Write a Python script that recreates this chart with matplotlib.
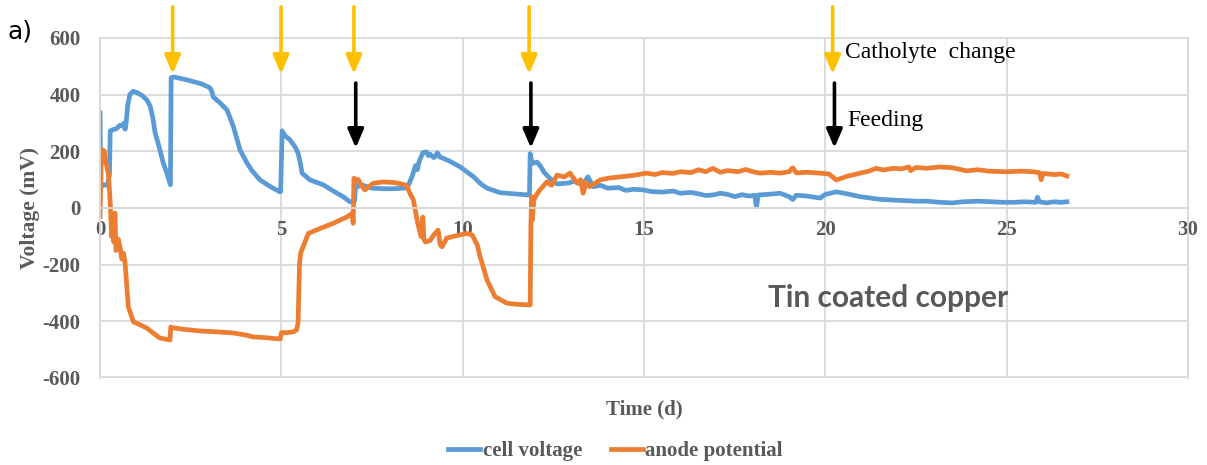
import numpy as np
import matplotlib
matplotlib.use('Agg')
from matplotlib import pyplot as plt

plt.rcParams['axes.unicode_minus'] = False

# cell voltage (mV) vs time (d)
cell_t = [0, 0.02, 0.05, 0.1, 0.2, 0.26, 0.28, 0.32, 0.45, 0.55, 0.62, 0.66, 0.69, 0.72, 0.76, 0.82, 0.91,
          1.0, 1.15, 1.29, 1.38, 1.45, 1.52, 1.6, 1.74, 1.85, 1.94, 1.96, 2.05, 2.4, 2.8, 3.03, 3.08, 3.12,
          3.3, 3.5, 3.67, 3.86, 4.05, 4.2, 4.41, 4.7, 4.96, 4.98, 5.02, 5.1, 5.24, 5.38, 5.46, 5.52, 5.57,
          5.79, 6.15, 6.43, 6.7, 6.89, 6.98, 7.02, 7.05, 7.1, 7.2, 7.3, 7.5, 7.8, 8.1, 8.4, 8.5, 8.6, 8.7,
          8.75, 8.8, 8.9, 9.0, 9.05, 9.1, 9.2, 9.25, 9.3, 9.37, 9.6, 9.93, 10.3, 10.5, 10.67, 11.03, 11.4,
          11.8, 11.84, 11.86, 11.9, 11.94, 12.05, 12.13, 12.25, 12.4, 12.6, 12.9, 13.1, 13.3, 13.45, 13.6,
          13.8, 14.0, 14.3, 14.5, 14.7, 14.97, 15.2, 15.5, 15.8, 16.0, 16.3, 16.5, 16.7, 16.9, 17.1, 17.3,
          17.5, 17.7, 17.9, 18.05, 18.1, 18.15, 18.4, 18.75, 19.0, 19.1, 19.2, 19.5, 19.85, 20.0, 20.3,
          20.6, 20.95, 21.2, 21.4, 21.6, 21.86, 22.2, 22.5, 22.8, 23.16, 23.5, 23.8, 24.2, 24.6, 24.9,
          25.2, 25.5, 25.8, 25.85, 25.9, 26.1, 26.3, 26.5, 26.66]
cell_v = [335, 80, 78, 82, 80, 120, 272, 275, 280, 292, 290, 300, 278, 300, 360, 400, 412,
          408, 398, 381, 360, 322, 264, 229, 160, 120, 82, 460, 462, 452, 438, 424, 412, 392,
          372, 346, 290, 205, 159, 130, 99, 75, 57, 58, 272, 255, 240, 215, 194, 160, 123,
          99, 82, 60, 40, 22, 22, 25, 90, 75, 82, 78, 70, 68, 68, 70, 80, 110, 150,
          135, 165, 195, 198, 185, 190, 178, 183, 195, 180, 168, 145, 110, 85, 70, 54, 50,
          46, 46, 192, 165, 158, 162, 150, 125, 105, 85, 88, 95, 80, 110, 75,
          80, 70, 72, 62, 66, 64, 58, 56, 60, 52, 55, 50, 44, 46, 52, 48,
          40, 47, 42, 45, 4, 46, 48, 52, 40, 30, 45, 42, 35, 48, 57,
          50, 40, 36, 32, 30, 28, 26, 24, 24, 20, 18, 22, 24, 22, 20,
          20, 22, 20, 38, 22, 18, 22, 20, 22]

# anode potential (mV) vs time (d)
anode_t = [0, 0.03, 0.08, 0.12, 0.16, 0.23, 0.28, 0.32, 0.35, 0.38, 0.41, 0.44, 0.5, 0.55, 0.6, 0.65,
           0.69, 0.78, 0.92, 1.1, 1.29, 1.5, 1.65, 1.93, 1.95, 1.97, 2.3, 2.76, 3.2, 3.67, 4.0, 4.23, 4.6,
           4.91, 4.97, 5.0, 5.15, 5.33, 5.42, 5.46, 5.5, 5.53, 5.6, 5.74, 6.07, 6.43, 6.8, 6.95, 6.98,
           7.0, 7.03, 7.12, 7.2, 7.3, 7.53, 7.8, 8.1, 8.3, 8.45, 8.55, 8.64, 8.74, 8.85, 8.9, 8.93, 8.97,
           9.1, 9.2, 9.32, 9.38, 9.43, 9.56, 9.75, 9.93, 10.1, 10.26, 10.4, 10.48, 10.67, 10.89, 11.22,
           11.5, 11.84, 11.86, 11.88, 11.9, 11.92, 11.96, 12.05, 12.13, 12.32, 12.45, 12.6, 12.8, 12.96,
           13.15, 13.25, 13.32, 13.4, 13.5, 13.79, 14.0, 14.34, 14.7, 15.07, 15.3, 15.5, 15.8, 16.0, 16.3,
           16.5, 16.7, 16.9, 17.1, 17.3, 17.6, 17.8, 18.0, 18.2, 18.5, 18.75, 19.0, 19.1, 19.2, 19.5,
           19.85, 20.1, 20.3, 20.6, 20.95, 21.2, 21.4, 21.6, 21.86, 22.1, 22.3, 22.35, 22.5, 22.8, 23.16,
           23.5, 23.9, 24.2, 24.5, 25.0, 25.4, 25.7, 25.9, 25.95, 26.0, 26.3, 26.5, 26.66]
anode_v = [-30, 150, 205, 200, 160, 123, 20, -101, -40, -120, -18, -150, -110, -137, -180, -160,
           -195, -349, -402, -412, -424, -445, -459, -466, -420, -422, -428, -434, -437, -441, -448, -455, -458,
           -462, -462, -440, -440, -437, -430, -406, -195, -160, -137, -90, -72, -54, -32, -19, -54,
           105, 100, 100, 80, 64, 87, 92, 90, 85, 80, 50, 28, -42, -101, -32, -110, -120,
           -115, -95, -78, -130, -137, -106, -100, -95, -90, -95, -130, -172, -254, -313, -336,
           -340, -342, -342, -60, 40, -42, 28, 50, 64, 92, 80, 116, 110, 123,
           88, 100, 52, 90, 75, 99, 105, 110, 115, 123, 118, 125, 122, 128, 125,
           135, 128, 140, 126, 132, 128, 136, 128, 123, 126, 123, 128, 142, 124, 126,
           123, 120, 99, 112, 123, 130, 140, 134, 140, 138, 145, 132, 143, 140, 145,
           142, 131, 135, 130, 128, 130, 128, 125, 100, 122, 118, 120, 113]

arrow_orange = [2.0, 4.99, 7.0, 11.83, 20.2]
arrow_black = [7.05, 11.88, 20.25]

grey = '#595959'
serif = 'Liberation Serif'

fig = plt.figure(figsize=(12.07, 4.65), dpi=100)
ax = fig.add_axes([0.0829, 0.1871, 0.9014, 0.7312])

ax.plot(cell_t, cell_v, color='#5B9BD5', lw=3.4, label='cell voltage', solid_joinstyle='round')
ax.plot(anode_t, anode_v, color='#ED7D31', lw=3.4, label='anode potential', solid_joinstyle='round')

ax.set_xlim(0, 30)
ax.set_ylim(-600, 600)
ax.set_xticks(np.arange(0, 31, 5))
ax.set_yticks(np.arange(-600, 601, 200))
ax.grid(color='#D9D9D9', lw=1.3)
ax.set_axisbelow(True)
for s in ax.spines.values():
    s.set_color('#D9D9D9')
    s.set_linewidth(1.3)
ax.spines['bottom'].set_position(('data', 0))
ax.axhline(-600, color='#D9D9D9', lw=2.6, zorder=0)
ax.tick_params(length=0, labelsize=15, labelcolor=grey)
ax.tick_params(axis='x', pad=9)
ax.tick_params(axis='y', pad=14)
for lab in ax.get_xticklabels() + ax.get_yticklabels():
    lab.set_fontfamily(serif)
    lab.set_fontweight('bold')

ax.set_ylabel('Voltage (mV)', fontsize=15.5, fontweight='bold', color=grey, family=serif)
ax.yaxis.set_label_coords(-0.055, 0.5)
ax.text(0.5, -0.094, 'Time (d)', transform=ax.transAxes, fontsize=15, fontweight='bold', color=grey,
        family=serif, ha='center', va='center')

for x in arrow_orange:
    ax.annotate('', xy=(x, 473), xytext=(x, 710), annotation_clip=False,
                arrowprops=dict(arrowstyle='-|>,head_length=0.7,head_width=0.3', color='#FFC000', lw=2.6,
                                mutation_scale=16, shrinkA=0, shrinkB=0))
for x in arrow_black:
    ax.annotate('', xy=(x, 212), xytext=(x, 441), annotation_clip=False,
                arrowprops=dict(arrowstyle='-|>,head_length=0.7,head_width=0.3', color='black', lw=2.6,
                                mutation_scale=16, shrinkA=0, shrinkB=0))

ax.text(20.55, 548, 'Catholyte  change', fontsize=17, family=serif, color='black', va='center')
ax.text(20.6, 310, 'Feeding', fontsize=17, family=serif, color='black', va='center')
ax.text(21.73, -318, 'Tin coated copper', fontsize=21.5, fontweight='bold', family='Lato', color=grey,
        ha='center', va='center')
fig.text(0.006, 0.932, 'a)', fontsize=18, color='black', va='center')

leg = fig.legend(loc='center', bbox_to_anchor=(0.51, 0.03), ncol=2, frameon=False, handlelength=1.55,
                 columnspacing=1.4, handletextpad=0.1, prop=dict(family=serif, weight='bold', size=15))
for t in leg.get_texts():
    t.set_color(grey)

fig.savefig('out.png', dpi=100)
